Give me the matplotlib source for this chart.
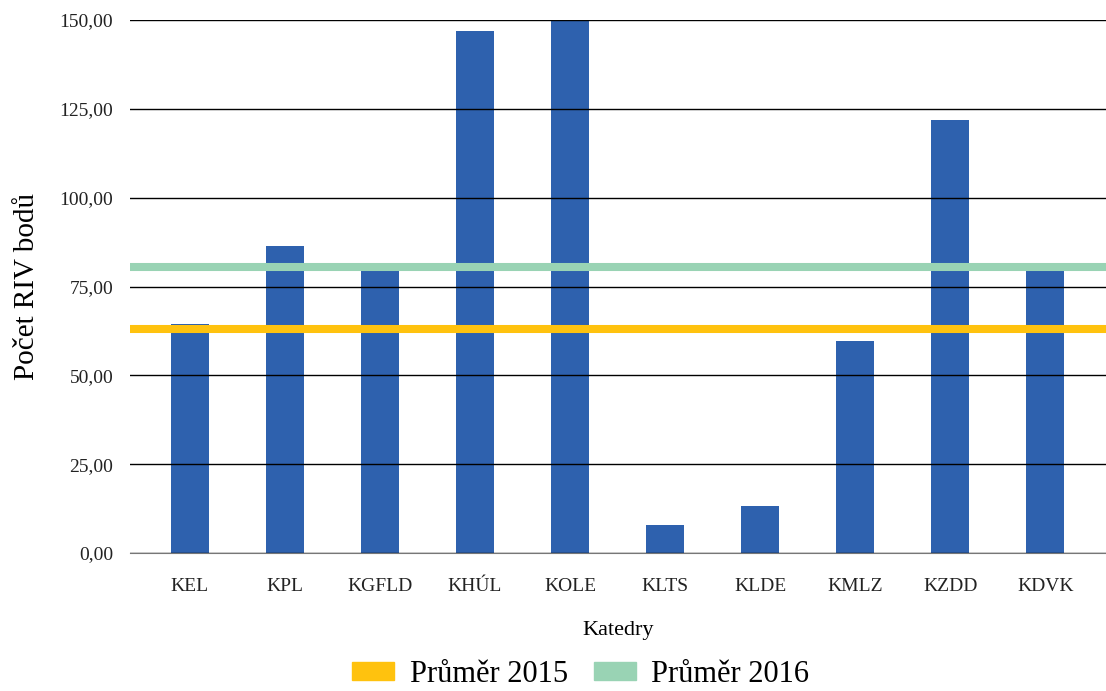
import matplotlib
matplotlib.use('Agg')
import matplotlib.pyplot as plt
from matplotlib.patches import Patch
from matplotlib.ticker import FuncFormatter

plt.rcParams['font.family'] = ['Liberation Serif', 'DejaVu Serif']

# data
katedry = ['KEL', 'KPL', 'KGFLD', 'KHÚL', 'KOLE', 'KLTS', 'KLDE', 'KMLZ', 'KZDD', 'KDVK']
body = [64.5, 86.5, 79.5, 147.0, 150.0, 7.9, 13.3, 59.8, 122.0, 79.5]
prumer_2015 = 63.0
prumer_2016 = 80.6

fig = plt.figure(figsize=(11.06, 6.91), dpi=100)
ax = fig.add_axes([0.1175, 0.1997, 0.8825, 0.7713])

x = range(len(katedry))
ax.bar(x, body, width=0.4, color='#2E61AE', zorder=2)
ax.axhline(prumer_2015, color='#FFC20E', lw=5.8, zorder=4)
ax.axhline(prumer_2016, color='#99D3B4', lw=5.8, zorder=4)

ax.set_ylim(0, 150)
ax.set_xlim(-0.63, 9.64)
ax.set_yticks([0, 25, 50, 75, 100, 125, 150])
ax.yaxis.set_major_formatter(FuncFormatter(lambda v, p: f'{v:.2f}'.replace('.', ',')))
ax.grid(axis='y', color='black', lw=1, zorder=3)
ax.set_axisbelow(False)
ax.set_xticks(list(x))
ax.set_xticklabels(katedry)
ax.tick_params(axis='both', length=0, labelsize=14, colors='#222222')
ax.tick_params(axis='x', pad=18)
ax.tick_params(axis='y', pad=12)
for s in ['top', 'right', 'left']:
    ax.spines[s].set_visible(False)
ax.spines['bottom'].set_color('#777777')
ax.spines['bottom'].set_zorder(3)

ax.set_xlabel('Katedry', fontsize=16, labelpad=19)
ax.set_ylabel('Počet RIV bodů', fontsize=21, labelpad=14)

handles = [Patch(color='#FFC20E'), Patch(color='#99D3B4')]
fig.legend(handles, ['Průměr 2015', 'Průměr 2016'], loc='center',
           bbox_to_anchor=(0.525, 0.024), ncol=2, frameon=False, fontsize=22,
           handlelength=1.37, handleheight=0.52, handletextpad=0.52, columnspacing=0.85,
           borderpad=0)

fig.savefig('out.png', dpi=100)
